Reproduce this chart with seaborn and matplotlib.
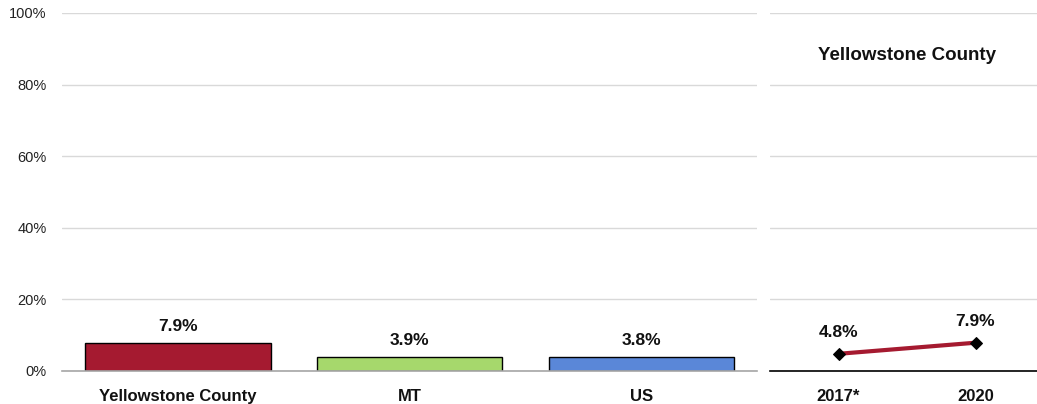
import matplotlib
matplotlib.use("Agg")
import matplotlib.pyplot as plt
import seaborn as sns
import pandas as pd

categories = ["Yellowstone County", "MT", "US"]
values = [7.9, 3.9, 3.8]
bar_colors = ["#A51A30", "#A6D86C", "#5A87D8"]

years = ["2017*", "2020"]
trend = [4.8, 7.9]
trend_title = "Yellowstone County"

yticks = [0, 20, 40, 60, 80, 100]

sns.set_theme(style="white")
plt.rcParams["font.family"] = ["Liberation Sans", "DejaVu Sans"]

W, H = 1037, 404
fig = plt.figure(figsize=(W / 100, H / 100), dpi=100)

def ax_rect(x0, x1, ytop, ybot):
    return [x0 / W, 1 - ybot / H, (x1 - x0) / W, (ybot - ytop) / H]

ax1 = fig.add_axes(ax_rect(62, 757, 13, 371))
ax2 = fig.add_axes(ax_rect(770, 1037, 13, 371))

df = pd.DataFrame({"cat": categories, "val": values})
sns.barplot(data=df, x="cat", y="val", hue="cat", palette=bar_colors, ax=ax1,
            width=0.8, edgecolor="black", linewidth=1, legend=False, saturation=1)
ax1.set_ylim(0, 100)
ax1.set_xlim(-0.5, 2.5)
ax1.set_yticks(yticks)
ax1.set_yticklabels([f"{t}%" for t in yticks], fontsize=10.5, color="#222222")
ax1.yaxis.grid(True, color="#d9d9d9", linewidth=1)
ax1.set_axisbelow(True)
for s in ["top", "right", "left"]:
    ax1.spines[s].set_visible(False)
ax1.spines["bottom"].set_color("#a6a6a6")
ax1.spines["bottom"].set_linewidth(1.2)
ax1.set_xlabel("")
ax1.set_ylabel("")
ax1.tick_params(axis="x", length=0, pad=13)
ax1.tick_params(axis="y", length=0, pad=11)
for lab in ax1.get_xticklabels():
    lab.set_fontweight("bold")
    lab.set_fontsize(12)
    lab.set_color("#111111")
for i, v in enumerate(values):
    ax1.text(i, v + 2.5, f"{v:.1f}%", ha="center", va="bottom",
             fontsize=12.5, fontweight="bold", color="#111111")

df2 = pd.DataFrame({"year": years, "val": trend})
sns.lineplot(data=df2, x="year", y="val", ax=ax2, color="#A51A30", linewidth=3,
             marker="D", markersize=6, markerfacecolor="black", markeredgecolor="black", sort=False)
ax2.set_ylim(0, 100)
ax2.set_xlim(-0.5, -0.5 + 267 / 137)
ax2.set_yticks(yticks)
ax2.set_yticklabels([])
ax2.yaxis.grid(True, color="#d9d9d9", linewidth=1)
ax2.set_axisbelow(True)
for s in ["top", "right", "left"]:
    ax2.spines[s].set_visible(False)
ax2.spines["bottom"].set_color("black")
ax2.spines["bottom"].set_linewidth(1.2)
ax2.set_xlabel("")
ax2.set_ylabel("")
ax2.tick_params(axis="x", length=0, pad=13)
ax2.tick_params(axis="y", length=0)
for lab in ax2.get_xticklabels():
    lab.set_fontweight("bold")
    lab.set_fontsize(12)
    lab.set_color("#111111")
for i, v in enumerate(trend):
    ax2.text(i, v + 3.8, f"{v:.1f}%", ha="center", va="bottom",
             fontsize=12.5, fontweight="bold", color="#111111")
ax2.text(0.5, 88, trend_title, ha="center", va="center",
         fontsize=13.5, fontweight="bold", color="#111111")

fig.savefig("out.png", dpi=100)
